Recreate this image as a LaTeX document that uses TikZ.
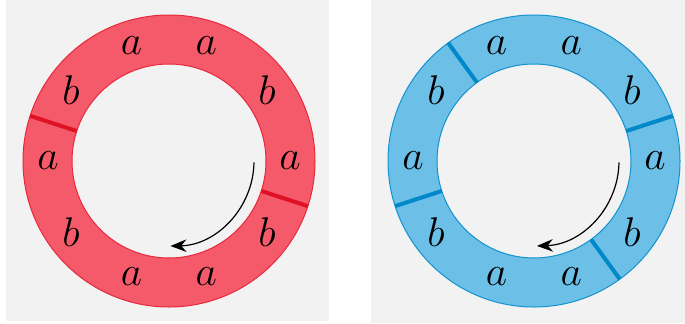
\documentclass[tikz,border=0pt]{standalone}
\usetikzlibrary{arrows.meta}
\definecolor{ringred}{RGB}{245,90,106}
\definecolor{edgered}{RGB}{232,40,60}
\definecolor{cutred}{RGB}{222,18,36}
\definecolor{ringblue}{RGB}{108,192,232}
\definecolor{edgeblue}{RGB}{20,146,206}
\definecolor{cutblue}{RGB}{0,136,200}
\definecolor{paper}{RGB}{242,242,242}
\tikzset{
  letter/.style={font=\fontsize{21}{25}\selectfont,inner sep=0pt},
  cut/.style={line width=2pt,line cap=butt},
  turn/.style={-{Stealth[length=2.8mm,width=2.2mm]},line width=.6pt},
}

\begin{document}
\begin{tikzpicture}[x=.5pt,y=.5pt]
  \useasboundingbox (0,0) rectangle (685,323);
  \fill[paper] (6,2) rectangle (329,323);
  \fill[paper] (371,0) rectangle (685,323);
  % red ring, two cuts
  \begin{scope}[shift={(169,162)}]
    \fill[ringred,even odd rule] (0,0) circle (146) (0,0) circle (97);
    \draw[edgered,line width=.5pt] (0,0) circle (146) (0,0) circle (97);
    \foreach \t in {162,342}
      \draw[cut,cutred] (\t:97) -- (\t:146);
    \foreach \t/\l in {0/a,36/b,72/a,108/a,144/b,180/a,216/b,252/a,288/a,324/b}
      \node[letter] (r\t) at (\t:121) {$\l$};
    \draw[turn] (-1:85) arc[start angle=-1,end angle=-89,radius=85];
  \end{scope}
  % blue ring, four cuts
  \begin{scope}[shift={(534,162)}]
    \fill[ringblue,even odd rule] (0,0) circle (146) (0,0) circle (97);
    \draw[edgeblue,line width=.5pt] (0,0) circle (146) (0,0) circle (97);
    \foreach \t in {18,126,198,306}
      \draw[cut,cutblue] (\t:97) -- (\t:146);
    \foreach \t/\l in {0/a,36/b,72/a,108/a,144/b,180/a,216/b,252/a,288/a,324/b}
      \node[letter] (b\t) at (\t:121) {$\l$};
    \draw[turn] (-1:85) arc[start angle=-1,end angle=-88,radius=85];
  \end{scope}
\end{tikzpicture}
\end{document}
